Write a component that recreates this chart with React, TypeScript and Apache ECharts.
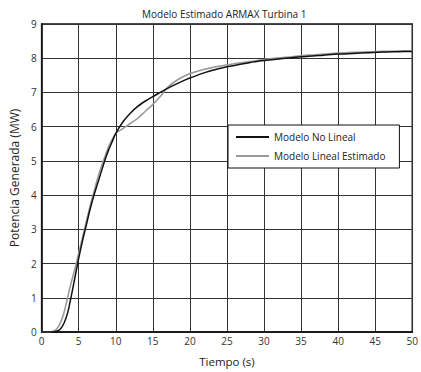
import React, { useEffect, useRef } from "react";
import * as echarts from "echarts";

const timeValues = [0, 1, 1.5, 2, 2.5, 3, 3.5, 4, 4.5, 5, 5.5, 6, 6.5, 7, 7.5, 8, 8.5, 9, 9.5, 10, 11, 12, 13, 14, 15, 16, 17, 18, 19, 20, 22, 24, 26, 28, 30, 32, 34, 36, 38, 40, 42, 44, 46, 48, 50];
const modeloNoLineal = [0, 0, 0, 0.02, 0.08, 0.25, 0.55, 1.05, 1.6, 2.15, 2.65, 3.1, 3.55, 3.95, 4.3, 4.65, 5.0, 5.3, 5.55, 5.8, 6.15, 6.4, 6.6, 6.75, 6.88, 7.0, 7.12, 7.23, 7.33, 7.42, 7.58, 7.7, 7.79, 7.87, 7.93, 7.98, 8.02, 8.06, 8.09, 8.12, 8.14, 8.16, 8.18, 8.19, 8.2];
const modeloLinealEstimado = [0, 0, 0.02, 0.08, 0.25, 0.55, 1.0, 1.45, 1.85, 2.3, 2.75, 3.2, 3.65, 4.05, 4.45, 4.8, 5.1, 5.4, 5.62, 5.8, 5.95, 6.1, 6.25, 6.45, 6.65, 6.88, 7.15, 7.32, 7.45, 7.55, 7.68, 7.77, 7.84, 7.9, 7.96, 8.01, 8.05, 8.09, 8.12, 8.15, 8.17, 8.19, 8.2, 8.21, 8.22];
const seriesNames = ["Modelo No Lineal", "Modelo Lineal Estimado"];
const titleText = "Modelo Estimado ARMAX Turbina 1";
const xName = "Tiempo (s)";
const yName = "Potencia Generada (MW)";

const FONT = "'Open Sans', 'Noto Sans', sans-serif";

export default function App() {
  const ref = useRef<HTMLDivElement>(null);
  useEffect(() => {
    if (!ref.current) return;
    const chart = echarts.init(ref.current, undefined, { renderer: "svg" });
    const pair = (ys: number[]) => timeValues.map((t, i) => [t, ys[i]]);
    chart.setOption({
      animation: false,
      backgroundColor: "#fff",
      textStyle: { fontFamily: FONT },
      title: {
        text: titleText,
        left: 137,
        top: 4,
        textStyle: { fontSize: 10, fontWeight: "normal", color: "#222", fontFamily: FONT },
      },
      grid: {
        left: 39,
        right: 5,
        top: 24,
        bottom: 40,
        show: true,
        borderColor: "#111",
        borderWidth: 1.5,
      },
      legend: {
        orient: "vertical",
        left: 228,
        top: 125,
        data: seriesNames.map((n) => ({ name: n, icon: "rect" })),
        backgroundColor: "#fff",
        borderColor: "#111",
        borderWidth: 1,
        padding: [5, 14, 5, 8],
        itemGap: 5,
        itemWidth: 33,
        itemHeight: 2,
        textStyle: { fontSize: 10, color: "#222", fontFamily: FONT, lineHeight: 14 },
      },
      xAxis: {
        type: "value",
        min: 0,
        max: 50,
        interval: 5,
        name: xName,
        nameLocation: "middle",
        nameGap: 23,
        nameTextStyle: { fontSize: 11.5, color: "#222", fontFamily: FONT },
        axisLine: { show: true, lineStyle: { color: "#111", width: 1.5 } },
        axisTick: { show: false },
        axisLabel: { fontSize: 10, color: "#333", margin: 4, fontFamily: FONT },
        splitLine: { show: true, lineStyle: { color: "#333", width: 1 } },
      },
      yAxis: {
        type: "value",
        min: 0,
        max: 9,
        interval: 1,
        name: yName,
        nameLocation: "middle",
        nameGap: 20,
        nameTextStyle: { fontSize: 12, color: "#222", fontFamily: FONT },
        axisLine: { show: true, lineStyle: { color: "#111", width: 1.5 } },
        axisTick: { show: false },
        axisLabel: { fontSize: 10, color: "#333", margin: 5, fontFamily: FONT },
        splitLine: { show: true, lineStyle: { color: "#333", width: 1 } },
      },
      series: [
        {
          name: seriesNames[0],
          type: "line",
          data: pair(modeloNoLineal),
          symbol: "none",
          smooth: 0.3,
          lineStyle: { color: "#111", width: 1.5 },
          itemStyle: { color: "#111" },
          z: 3,
        },
        {
          name: seriesNames[1],
          type: "line",
          data: pair(modeloLinealEstimado),
          symbol: "none",
          smooth: 0.3,
          lineStyle: { color: "#9a9a9a", width: 1.6 },
          itemStyle: { color: "#9a9a9a" },
          z: 2,
        },
      ],
    });
    return () => chart.dispose();
  }, []);
  return <div ref={ref} style={{ width: 421, height: 372, position: "absolute", left: 0, top: 0 }} />;
}
